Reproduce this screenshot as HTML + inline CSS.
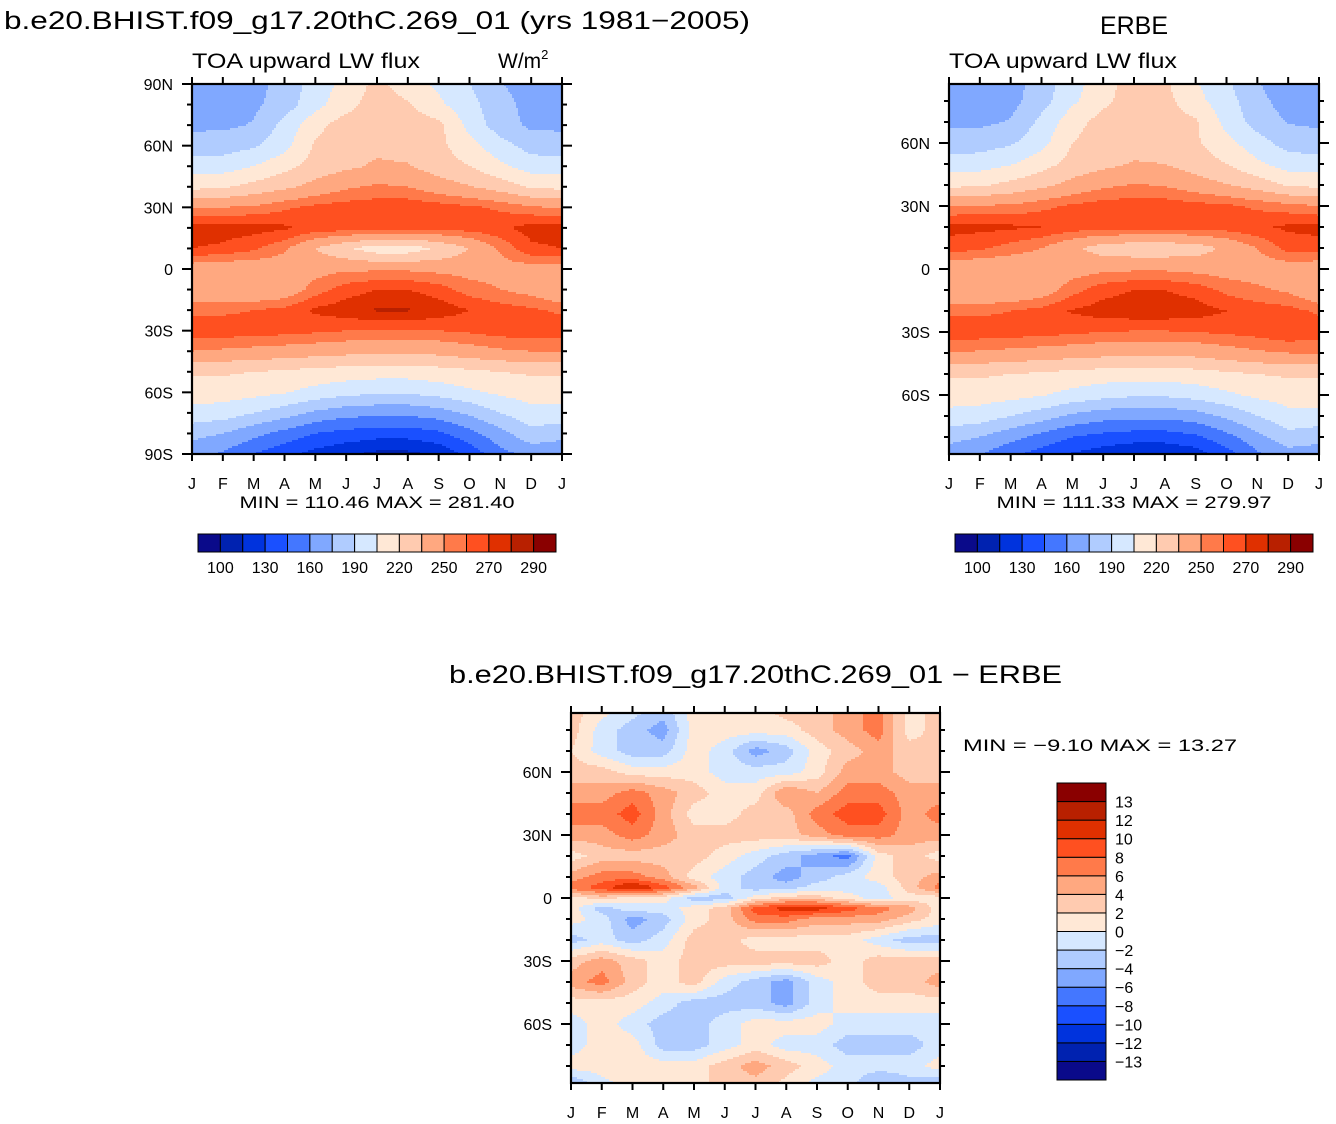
<!DOCTYPE html>
<html><head><meta charset="utf-8"><style>
html,body{margin:0;padding:0;background:#fff}
svg{display:block}
text{font-family:"Liberation Sans",sans-serif;fill:#000}
</style></head><body>
<svg id="chart" xmlns="http://www.w3.org/2000/svg" width="1336" height="1124" viewBox="0 0 1336 1124">
<text x="4" y="29" font-size="25" textLength="746" lengthAdjust="spacingAndGlyphs">b.e20.BHIST.f09_g17.20thC.269_01 (yrs 1981−2005)</text>
<text x="1134" y="34" font-size="25" text-anchor="middle">ERBE</text>
<text x="192" y="68" font-size="21" textLength="228" lengthAdjust="spacingAndGlyphs">TOA upward LW flux</text>
<text x="498" y="68" font-size="21">W/m<tspan font-size="13" dy="-9">2</tspan></text>
<text x="949" y="68" font-size="21" textLength="228" lengthAdjust="spacingAndGlyphs">TOA upward LW flux</text>
<text x="377" y="508" font-size="17" text-anchor="middle" textLength="275" lengthAdjust="spacingAndGlyphs">MIN = 110.46  MAX = 281.40</text>
<text x="1134" y="508" font-size="17" text-anchor="middle" textLength="275" lengthAdjust="spacingAndGlyphs">MIN = 111.33  MAX = 279.97</text>
<text x="449" y="683" font-size="25" textLength="613" lengthAdjust="spacingAndGlyphs">b.e20.BHIST.f09_g17.20thC.269_01  −  ERBE</text>
<text x="963" y="751" font-size="17" textLength="274" lengthAdjust="spacingAndGlyphs">MIN =   −9.10  MAX =   13.27</text>
<g id="layer"></g>
</svg>
<script>
const monthLabels = ['J','F','M','A','M','J','J','A','S','O','N','D','J'];
const lats = [90,80,70,60,50,40,30,20,10,0,-10,-20,-30,-40,-50,-60,-70,-80,-90];
const modelField = [
[168,168,170,180,197,210,224,212,202,190,176,168],
[170,170,172,182,200,214,228,222,208,195,180,170],
[172,172,176,195,215,228,230,228,224,200,182,172],
[182,183,188,200,222,230,232,230,224,210,196,184],
[197,198,205,215,226,232,237,236,228,220,208,198],
[216,218,225,232,240,248,252,250,242,236,228,218],
[248,250,252,258,263,265,266,267,265,262,258,252],
[275,275,274,272,266,266,265,264,264,265,268,274],
[270,268,262,252,235,222,212,212,222,235,252,268],
[242,240,240,242,245,248,248,248,246,245,245,244],
[235,235,236,240,255,265,270,270,265,255,250,245],
[258,258,260,263,272,276,281,281,276,270,265,262],
[266,266,265,264,262,260,259,259,260,262,265,266],
[250,248,246,244,242,240,238,238,240,244,248,250],
[222,222,220,218,215,213,212,212,214,217,220,222],
[212,212,210,206,200,195,192,192,196,202,208,212],
[200,198,190,182,172,166,164,164,168,178,190,200],
[180,175,165,155,145,140,137,137,142,155,170,185],
[165,158,145,135,125,118,111,111,118,135,155,165]];
const erbeField = [
[160,162,168,182,198,214,226,222,206,192,176,162],
[166,166,170,184,202,216,228,225,210,196,180,168],
[172,172,176,194,214,226,230,228,222,200,184,174],
[182,183,188,200,220,228,230,229,222,210,196,184],
[197,198,204,214,225,231,236,235,228,220,208,198],
[216,218,224,231,240,247,251,249,242,236,228,218],
[250,251,252,257,262,265,266,266,264,262,258,254],
[273,273,272,270,266,265,264,264,264,265,268,272],
[266,262,256,250,238,228,225,225,228,238,250,264],
[240,238,238,240,244,247,248,248,246,244,244,242],
[236,235,236,242,256,266,270,270,266,257,252,248],
[258,258,260,264,271,275,277,277,275,270,266,264],
[266,266,265,264,262,260,259,259,260,262,264,268],
[250,248,246,244,242,240,238,238,240,244,248,250],
[222,222,220,218,215,213,212,212,214,217,220,222],
[212,212,210,206,200,195,192,192,196,202,208,212],
[200,198,190,182,172,166,164,164,168,178,190,200],
[180,175,165,155,145,140,137,137,142,155,170,185],
[165,158,145,135,125,118,112,112,118,135,155,165]];
const diffLats = [90,80,70,60,50,40,30,20,10,5,0,-5,-10,-20,-30,-40,-50,-60,-70,-80,-90];
const diffField = [
[3,1,-1,-3,1,1,1,3,3,5,7,1],
[3,-1,-3,-5,1,1,1,1,3,5,7,1],
[2,-1,-3,-3,1,-1,-5,-3,1,3,5,3],
[3,3,1,1,1,-1,-1,-1,1,5,5,3],
[5,5,7,5,3,1,1,6,4,7,7,5],
[7,7,9,5,1,1,3,3,7,9,9,5],
[5,5,7,5,3,3,3,3,5,7,7,5],
[1,3,3,3,3,1,-1,-3,-5,-7,1,3],
[5,7,7,5,1,-1,-3,-5,-3,-1,1,3],
[7,9,12.5,9,5,-1,-3,-3,-1,-1,-1,3],
[1,3,1,1,-3,-3,1,3,3,1,-1,1],
[1,-3,-1,-1,1,3,9,11,11,9,7,5],
[1,-1,-5,-3,1,3,7,7,5,5,5,3],
[-3,-1,-3,-1,3,3,1,1,1,1,-1,-3],
[3,5,3,1,3,3,3,3,3,1,3,3],
[5,7,3,1,3,-1,-3,-5,-1,1,3,3],
[1,1,1,-1,-3,-3,-3,-5,-1,1,1,1],
[-1,1,-1,-3,-3,-1,1,1,1,-1,-1,-1],
[-1,1,1,-3,-3,-1,1,-1,-1,-3,-3,-3],
[1,1,1,1,1,3,5,3,1,-1,-1,-1],
[-5,-1,1,1,1,3,3,1,-1,-1,-5,-3]];
const absLevels = [100,115,130,145,160,175,190,205,220,235,250,260,270,280,290];
const absLabels = ['100','130','160','190','220','250','270','290'];
const diffLevels = [-13,-12,-10,-8,-6,-4,-2,0,2,4,6,8,10,12,13];
const diffLabels = ['13','12','10','8','6','4','2','0','−2','−4','−6','−8','−10','−12','−13'];
const palette = ['#0a0a8a','#0022b0','#0033dd','#1a50ff','#4477ff','#80a8ff','#b0ccff','#d6e8ff','#ffe8d6','#ffcbb0','#ffa880','#ff7a4a','#ff5020','#e03000','#b82000','#8a0000'];

const NS = 'http://www.w3.org/2000/svg';
const layer = document.getElementById('layer');
function mk(tag, attrs, parent){const e=document.createElementNS(NS,tag);for(const k in attrs)e.setAttribute(k,attrs[k]);(parent||layer).appendChild(e);return e;}

function sample(grid, la, lat, m){
  let i=0; while(i<la.length-2 && lat<la[i+1]) i++;
  let t=(la[i]-lat)/(la[i]-la[i+1]); t=Math.max(0,Math.min(1,t));
  const j=Math.floor(m)%12, f=m-Math.floor(m), j2=(j+1)%12;
  const a=grid[i][j]*(1-f)+grid[i][j2]*f;
  const b=grid[i+1][j]*(1-f)+grid[i+1][j2]*f;
  return a*(1-t)+b*t;
}
function cls(v, lev){let c=0;while(c<lev.length && v>=lev[c])c++;return c;}

function panel(name, grid, la, lev, x0, y0, w, h, yToLat, latToY, ylabels, xlabY){
  const g=mk('g',{});
  
  
  const s=2;
  for(let py=y0; py<y0+h; py+=s){
    const lat=Math.max(-90,Math.min(90,yToLat(py+s/2)));
    let start=x0, prev=-1;
    for(let px=x0; px<x0+w+s; px+=s){
      let c=-1;
      if(px<x0+w){const m=(px+s/2-x0)/w*12; c=cls(sample(grid,la,lat,Math.min(m,11.999)),lev);}
      if(c!==prev){
        if(prev>=0){
          const r=mk('rect',{x:start,y:py,width:Math.min(px,x0+w)-start+0.6,height:s+0.6,fill:palette[prev]},g);
          
          
        }
        start=px; prev=c;
      }
    }
  }
  const box=mk('rect',{x:x0,y:y0,width:w,height:h,fill:'none',stroke:'#000','stroke-width':2.2},g);
  
  
  for(let i=0;i<=12;i++){
    const x=x0+i*w/12;
    mk('line',{x1:x,y1:y0,x2:x,y2:y0-7,stroke:'#000','stroke-width':2},g);
    mk('line',{x1:x,y1:y0+h,x2:x,y2:y0+h+7,stroke:'#000','stroke-width':2},g);
    const t=mk('text',{x:x,y:xlabY,'font-size':16,'text-anchor':'middle'},g);
    t.textContent=monthLabels[i];
    
    
  }
  for(let lat=-90;lat<=90;lat+=10){
    const y=latToY(lat);
    if(y<y0-1||y>y0+h+1) continue;
    const L=(lat%30===0)?10:5;
    mk('line',{x1:x0,y1:y,x2:x0-L,y2:y,stroke:'#000','stroke-width':2},g);
    mk('line',{x1:x0+w,y1:y,x2:x0+w+L,y2:y,stroke:'#000','stroke-width':2},g);
  }
  ylabels.forEach(l=>{
    const t=mk('text',{x:x0-19,y:latToY(l[0])+6,'font-size':16,'text-anchor':'end'},g);
    t.textContent=l[1];
    
    
  });
}

function hbar(name, x0, y0, w, h, labels){
  const g=mk('g',{});
  
  
  const bw=w/palette.length;
  palette.forEach((c,i)=>{
    const r=mk('rect',{x:x0+i*bw,y:y0,width:bw,height:h,fill:c,stroke:'#000','stroke-width':1},g);
    
    
  });
  labels.forEach((lb,k)=>{
    const t=mk('text',{x:x0+(1+2*k)*bw,y:y0+h+21,'font-size':16,'text-anchor':'middle'},g);
    t.textContent=lb;
    
    
  });
}

panel('model-contour-panel', modelField, lats, absLevels, 192, 84, 370, 370,
  y=>90-(y-84)/370*180, lat=>84+(90-lat)/180*370,
  [[90,'90N'],[60,'60N'],[30,'30N'],[0,'0'],[-30,'30S'],[-60,'60S'],[-90,'90S']], 489);
panel('erbe-contour-panel', erbeField, lats, absLevels, 949, 84, 370, 370,
  y=>(269-y)/2.1, lat=>269-lat*2.1,
  [[60,'60N'],[30,'30N'],[0,'0'],[-30,'30S'],[-60,'60S']], 489);
panel('diff-contour-panel', diffField, diffLats, diffLevels, 571, 713, 369, 370,
  y=>(898-y)/2.1, lat=>898-lat*2.1,
  [[60,'60N'],[30,'30N'],[0,'0'],[-30,'30S'],[-60,'60S']], 1118);

hbar('model-colorbar', 198, 534, 358, 18, absLabels);
hbar('erbe-colorbar', 955, 534, 358, 18, absLabels);

(function(){
  const g=mk('g',{});
  
  
  const x0=1057,y0=783,w=49,H=297,bh=H/palette.length;
  palette.forEach((c,i)=>{
    const r=mk('rect',{x:x0,y:y0+H-(i+1)*bh,width:w,height:bh,fill:c,stroke:'#000','stroke-width':1},g);
    
    
  });
  diffLabels.forEach((lb,k)=>{
    const t=mk('text',{x:1115,y:y0+(k+1)*bh+6,'font-size':16},g);
    t.textContent=lb;
    
    
  });
})();
</script>
</body></html>
